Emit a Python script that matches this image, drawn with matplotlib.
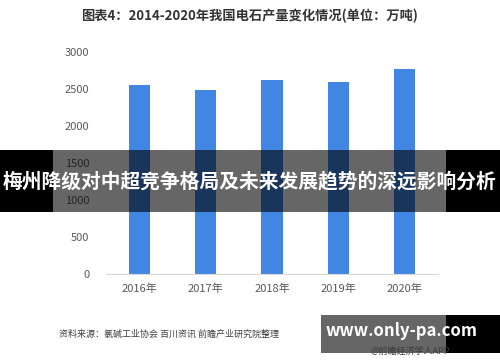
import matplotlib.pyplot as plt
from matplotlib.patches import Rectangle

plt.rcParams['font.family'] = ['Noto Sans CJK SC', 'DejaVu Sans']

# data
years = ['2016年', '2017年', '2018年', '2019年', '2020年']
output = [2554, 2486, 2622, 2595, 2770]
yticks = [0, 500, 1000, 1500, 2000, 2500, 3000]

title = '图表4：2014-2020年我国电石产量变化情况(单位：万吨)'
source = '资料来源：氯碱工业协会 百川资讯 前瞻产业研究院整理'
banner = '梅州降级对中超竞争格局及未来发展趋势的深远影响分析'
site = 'www.only-pa.com'
app = '@前瞻经济学人APP'

fig = plt.figure(figsize=(5, 3.62), dpi=100)
ax = fig.add_axes([0.212, 0.243, 0.664, 0.613])

ax.bar(range(len(years)), output, width=0.32, color='#4286e3', zorder=2)
ax.set_xlim(-0.5, len(years) - 0.5)
ax.set_ylim(0, 3000)
ax.set_yticks(yticks)
ax.set_xticks(range(len(years)))
ax.set_xticklabels(years)
ax.tick_params(axis='both', length=0, colors='#595959', labelsize=8)
ax.tick_params(axis='y', pad=12)
ax.tick_params(axis='x', pad=7)
for s in ['top', 'right', 'left']:
    ax.spines[s].set_visible(False)
ax.spines['bottom'].set_color('#d9d9d9')

fig.text(0.498, 0.955, title, ha='center', va='center', fontsize=9.5,
         fontweight='bold', color='#333333')
fig.text(0.118, 0.077, source, ha='left', va='center', fontsize=6.5, color='#404040')

# dark banner across the middle
fig.patches.append(Rectangle((0, 0.414), 1, 0.171, transform=fig.transFigure,
                             facecolor='black', alpha=0.6, zorder=5))
fig.patches.append(Rectangle((0, 0.414), 0.106, 0.171, transform=fig.transFigure,
                             facecolor='black', zorder=5))
fig.patches.append(Rectangle((0.892, 0.414), 0.108, 0.171, transform=fig.transFigure,
                             facecolor='black', zorder=5))
fig.text(0.5, 0.5, banner, ha='center', va='center', fontsize=14.2,
         fontweight='bold', color='white', zorder=6)

# site badge bottom right
fig.patches.append(Rectangle((0.642, 0.025), 0.25, 0.105, transform=fig.transFigure,
                             facecolor='#666666', zorder=5))
fig.patches.append(Rectangle((0.892, 0.025), 0.108, 0.105, transform=fig.transFigure,
                             facecolor='black', zorder=5))
fig.text(0.82, 0.03, app, ha='center', va='center', fontsize=6.5,
         color='#3a3a3a', zorder=6)
fig.text(0.803, 0.085, site, ha='center', va='center', fontsize=12,
         fontweight='bold', color='white', zorder=6)

fig.savefig('out.png', dpi=100)
